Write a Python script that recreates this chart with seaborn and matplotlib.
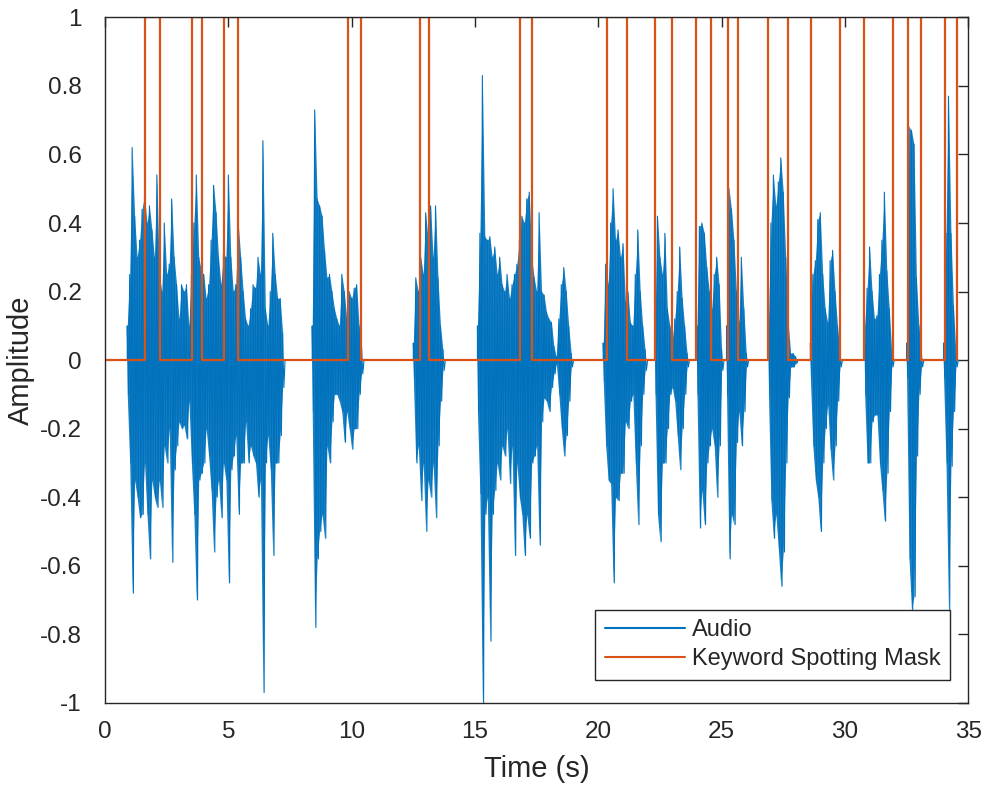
import numpy as np
import pandas as pd
import matplotlib
matplotlib.use("Agg")
import matplotlib.pyplot as plt
import seaborn as sns

# ------------------------------------------------------------
# Data
# ------------------------------------------------------------

# keyword spotting mask: switch-on / switch-off times (s)
mask_on = [1.63, 3.52, 4.84, 9.87, 12.78, 16.83, 20.35, 22.28, 23.97,
           25.24, 26.90, 28.63, 30.78, 32.55, 34.04]
mask_off = [2.24, 3.93, 5.41, 10.38, 13.15, 17.33, 21.18, 22.98, 24.56,
            25.68, 27.69, 29.81, 31.97, 33.09, 34.54]

# audio: speech bursts, upper / lower peak amplitude every 0.1 s
SAMPLE_STEP = 0.1
burst_start = [0.9, 8.4, 12.5, 15.1, 20.2, 22.3, 24.0, 25.2, 26.9, 28.6, 30.8, 32.5, 34.0]

b01_hi = [0.10, 0.25, 0.62, 0.42, 0.30, 0.35, 0.44, 0.48, 0.40, 0.45, 0.38, 0.30, 0.54,
          0.25, 0.20, 0.40, 0.25, 0.28, 0.47, 0.30, 0.22, 0.12, 0.22, 0.20, 0.22, 0.10,
          0.25, 0.40, 0.54, 0.30, 0.26, 0.25, 0.18, 0.22, 0.35, 0.51, 0.43, 0.30, 0.22,
          0.31, 0.30, 0.54, 0.30, 0.20, 0.22, 0.40, 0.30, 0.20, 0.12, 0.10, 0.15, 0.22,
          0.21, 0.30, 0.25, 0.64, 0.15, 0.10, 0.20, 0.37, 0.25, 0.18, 0.18, 0.08]
b01_lo = [-0.10, -0.30, -0.68, -0.35, -0.40, -0.46, -0.45, -0.30, -0.45, -0.58, -0.35,
          -0.40, -0.43, -0.35, -0.43, -0.25, -0.30, -0.20, -0.59, -0.32, -0.25, -0.18,
          -0.20, -0.19, -0.23, -0.12, -0.30, -0.45, -0.70, -0.35, -0.33, -0.30, -0.20,
          -0.28, -0.38, -0.56, -0.40, -0.35, -0.46, -0.30, -0.35, -0.65, -0.32, -0.28,
          -0.22, -0.45, -0.30, -0.30, -0.18, -0.30, -0.25, -0.28, -0.30, -0.40, -0.35,
          -0.97, -0.30, -0.22, -0.32, -0.57, -0.30, -0.30, -0.22, -0.08]

b02_hi = [0.10, 0.73, 0.47, 0.45, 0.42, 0.32, 0.24, 0.25, 0.20, 0.15, 0.12, 0.10,
          0.25, 0.20, 0.12, 0.20, 0.18, 0.21, 0.22, 0.10, 0.04]
b02_lo = [-0.15, -0.78, -0.58, -0.50, -0.45, -0.52, -0.25, -0.30, -0.18, -0.10, -0.10,
          -0.12, -0.15, -0.24, -0.15, -0.20, -0.26, -0.20, -0.20, -0.10, -0.04]

b03_hi = [0.05, 0.24, 0.20, 0.30, 0.25, 0.43, 0.35, 0.45, 0.30, 0.45, 0.24, 0.10, 0.03]
b03_lo = [-0.05, -0.30, -0.25, -0.41, -0.30, -0.50, -0.35, -0.40, -0.30, -0.46, -0.25,
          -0.12, -0.03]

b04_hi = [0.10, 0.37, 0.83, 0.36, 0.35, 0.36, 0.30, 0.33, 0.25, 0.30, 0.22, 0.20, 0.25,
          0.18, 0.22, 0.25, 0.28, 0.35, 0.42, 0.40, 0.47, 0.49, 0.30, 0.24, 0.20, 0.43,
          0.20, 0.19, 0.14, 0.12, 0.11, 0.04, 0.01, 0.12, 0.22, 0.27, 0.20, 0.10, 0.02]
b04_lo = [-0.15, -0.39, -1.00, -0.45, -0.40, -0.82, -0.45, -0.38, -0.30, -0.35, -0.25,
          -0.28, -0.20, -0.36, -0.25, -0.57, -0.30, -0.40, -0.45, -0.57, -0.45, -0.52,
          -0.30, -0.28, -0.25, -0.54, -0.18, -0.11, -0.12, -0.15, -0.08, -0.04, -0.01,
          -0.10, -0.20, -0.28, -0.22, -0.12, -0.02]

b05_hi = [0.05, 0.28, 0.22, 0.40, 0.50, 0.35, 0.38, 0.30, 0.34, 0.17, 0.20, 0.11, 0.10,
          0.25, 0.38, 0.20, 0.10, 0.03]
b05_lo = [-0.06, -0.25, -0.35, -0.36, -0.65, -0.40, -0.41, -0.33, -0.33, -0.18, -0.20,
          -0.12, -0.10, -0.30, -0.48, -0.25, -0.10, -0.03]

b06_hi = [0.10, 0.42, 0.30, 0.25, 0.37, 0.15, 0.10, 0.06, 0.12, 0.20, 0.33, 0.18, 0.10, 0.02]
b06_lo = [-0.10, -0.45, -0.53, -0.30, -0.30, -0.20, -0.10, -0.08, -0.12, -0.22, -0.32,
          -0.20, -0.10, -0.02]

b07_hi = [0.10, 0.39, 0.40, 0.37, 0.27, 0.20, 0.15, 0.25, 0.30, 0.22, 0.03]
b07_lo = [-0.10, -0.49, -0.38, -0.48, -0.30, -0.25, -0.20, -0.25, -0.40, -0.25, -0.03]

b08_hi = [0.10, 0.50, 0.44, 0.35, 0.20, 0.11, 0.30, 0.15, 0.02]
b08_lo = [-0.10, -0.58, -0.45, -0.48, -0.24, -0.15, -0.25, -0.15, -0.02]

b09_hi = [0.10, 0.40, 0.54, 0.45, 0.52, 0.59, 0.49, 0.30, 0.11, 0.02, 0.02, 0.01]
b09_lo = [-0.10, -0.41, -0.52, -0.45, -0.55, -0.66, -0.56, -0.30, -0.11, -0.02, -0.02, -0.01]

b10_hi = [0.05, 0.25, 0.29, 0.41, 0.43, 0.25, 0.15, 0.11, 0.29, 0.32, 0.20, 0.10, 0.02]
b10_lo = [-0.05, -0.25, -0.35, -0.40, -0.50, -0.30, -0.20, -0.13, -0.26, -0.35, -0.25,
          -0.12, -0.02]

b11_hi = [0.10, 0.21, 0.33, 0.20, 0.12, 0.13, 0.25, 0.35, 0.49, 0.26, 0.15, 0.02]
b11_lo = [-0.10, -0.30, -0.30, -0.18, -0.16, -0.16, -0.30, -0.38, -0.47, -0.33, -0.15, -0.02]

b12_hi = [0.05, 0.68, 0.67, 0.63, 0.24, 0.10, 0.02]
b12_lo = [-0.05, -0.58, -0.73, -0.69, -0.28, -0.10, -0.02]

b13_hi = [0.05, 0.37, 0.77, 0.37, 0.16, 0.02]
b13_lo = [-0.05, -0.30, -0.73, -0.31, -0.15, -0.02]

bursts = list(zip(burst_start,
                  [b01_hi, b02_hi, b03_hi, b04_hi, b05_hi, b06_hi, b07_hi,
                   b08_hi, b09_hi, b10_hi, b11_hi, b12_hi, b13_hi],
                  [b01_lo, b02_lo, b03_lo, b04_lo, b05_lo, b06_lo, b07_lo,
                   b08_lo, b09_lo, b10_lo, b11_lo, b12_lo, b13_lo]))

x_ticks = [0, 5, 10, 15, 20, 25, 30, 35]
y_ticks = [-1, -0.8, -0.6, -0.4, -0.2, 0, 0.2, 0.4, 0.6, 0.8, 1]
y_tick_labels = ["-1", "-0.8", "-0.6", "-0.4", "-0.2", "0", "0.2", "0.4", "0.6", "0.8", "1"]

# ------------------------------------------------------------
# Build the plotted paths
# ------------------------------------------------------------
audio_x, audio_y = [0.0], [0.0]
for start, hi, lo in bursts:
    audio_x.append(start)
    audio_y.append(0.0)
    for k, (h, l) in enumerate(zip(hi, lo)):
        t = start + k * SAMPLE_STEP
        audio_x += [t, t + SAMPLE_STEP / 2]
        audio_y += [h, l]
    audio_x.append(start + len(hi) * SAMPLE_STEP)
    audio_y.append(0.0)
audio_x.append(mask_off[-1])
audio_y.append(0.0)
audio_df = pd.DataFrame({"time": audio_x, "amp": audio_y})

mask_x, mask_y = [0.0], [0.0]
for on, off in zip(mask_on, mask_off):
    mask_x += [on, on, off, off]
    mask_y += [0, 1, 1, 0]
mask_df = pd.DataFrame({"time": mask_x, "amp": mask_y})

# ------------------------------------------------------------
# Plot
# ------------------------------------------------------------
sns.set_theme(style="white")
plt.rcParams["font.family"] = ["Liberation Sans", "DejaVu Sans"]
plt.rcParams["axes.unicode_minus"] = False

fig = plt.figure(figsize=(9.91, 7.88), dpi=100)
ax = fig.add_axes([0.106, 0.108, 0.871, 0.870])

blue = "#0072BD"
# dense core of the waveform
for start, hi, lo in bursts:
    t = [start + k * SAMPLE_STEP for k in range(len(hi))]
    ax.fill_between(t, hi, lo, color=blue, lw=0, alpha=0.9)

sns.lineplot(data=audio_df, x="time", y="amp", sort=False, estimator=None,
             color=blue, lw=0.8, label="Audio", ax=ax)
sns.lineplot(data=mask_df, x="time", y="amp", sort=False, estimator=None,
             color="#D95319", lw=1.6, label="Keyword Spotting Mask", ax=ax)

ax.set_xlim(0, 35)
ax.set_ylim(-1, 1)
ax.set_xticks(x_ticks)
ax.set_yticks(y_ticks)
ax.set_yticklabels(y_tick_labels)
ax.set_xlabel("Time (s)", fontsize=21, color="#262626", labelpad=9)
ax.set_ylabel("Amplitude", fontsize=21, color="#262626", labelpad=3)
ax.tick_params(direction="in", length=7, width=1, colors="#262626",
               labelsize=17.5, top=True, right=True)
ax.tick_params(axis="x", pad=13)
ax.tick_params(axis="y", pad=17)
for s in ax.spines.values():
    s.set_color("#262626")
    s.set_linewidth(1)

leg = ax.legend(loc="lower right", bbox_to_anchor=(0.979, 0.034), borderaxespad=0,
                fancybox=False, framealpha=1, edgecolor="#262626", fontsize=17,
                handlelength=3.4, handletextpad=0.3, borderpad=0.4, labelspacing=0.3)
leg.get_frame().set_linewidth(1)
for line in leg.get_lines():
    line.set_linewidth(1.5)

fig.savefig("out.png", dpi=100)
